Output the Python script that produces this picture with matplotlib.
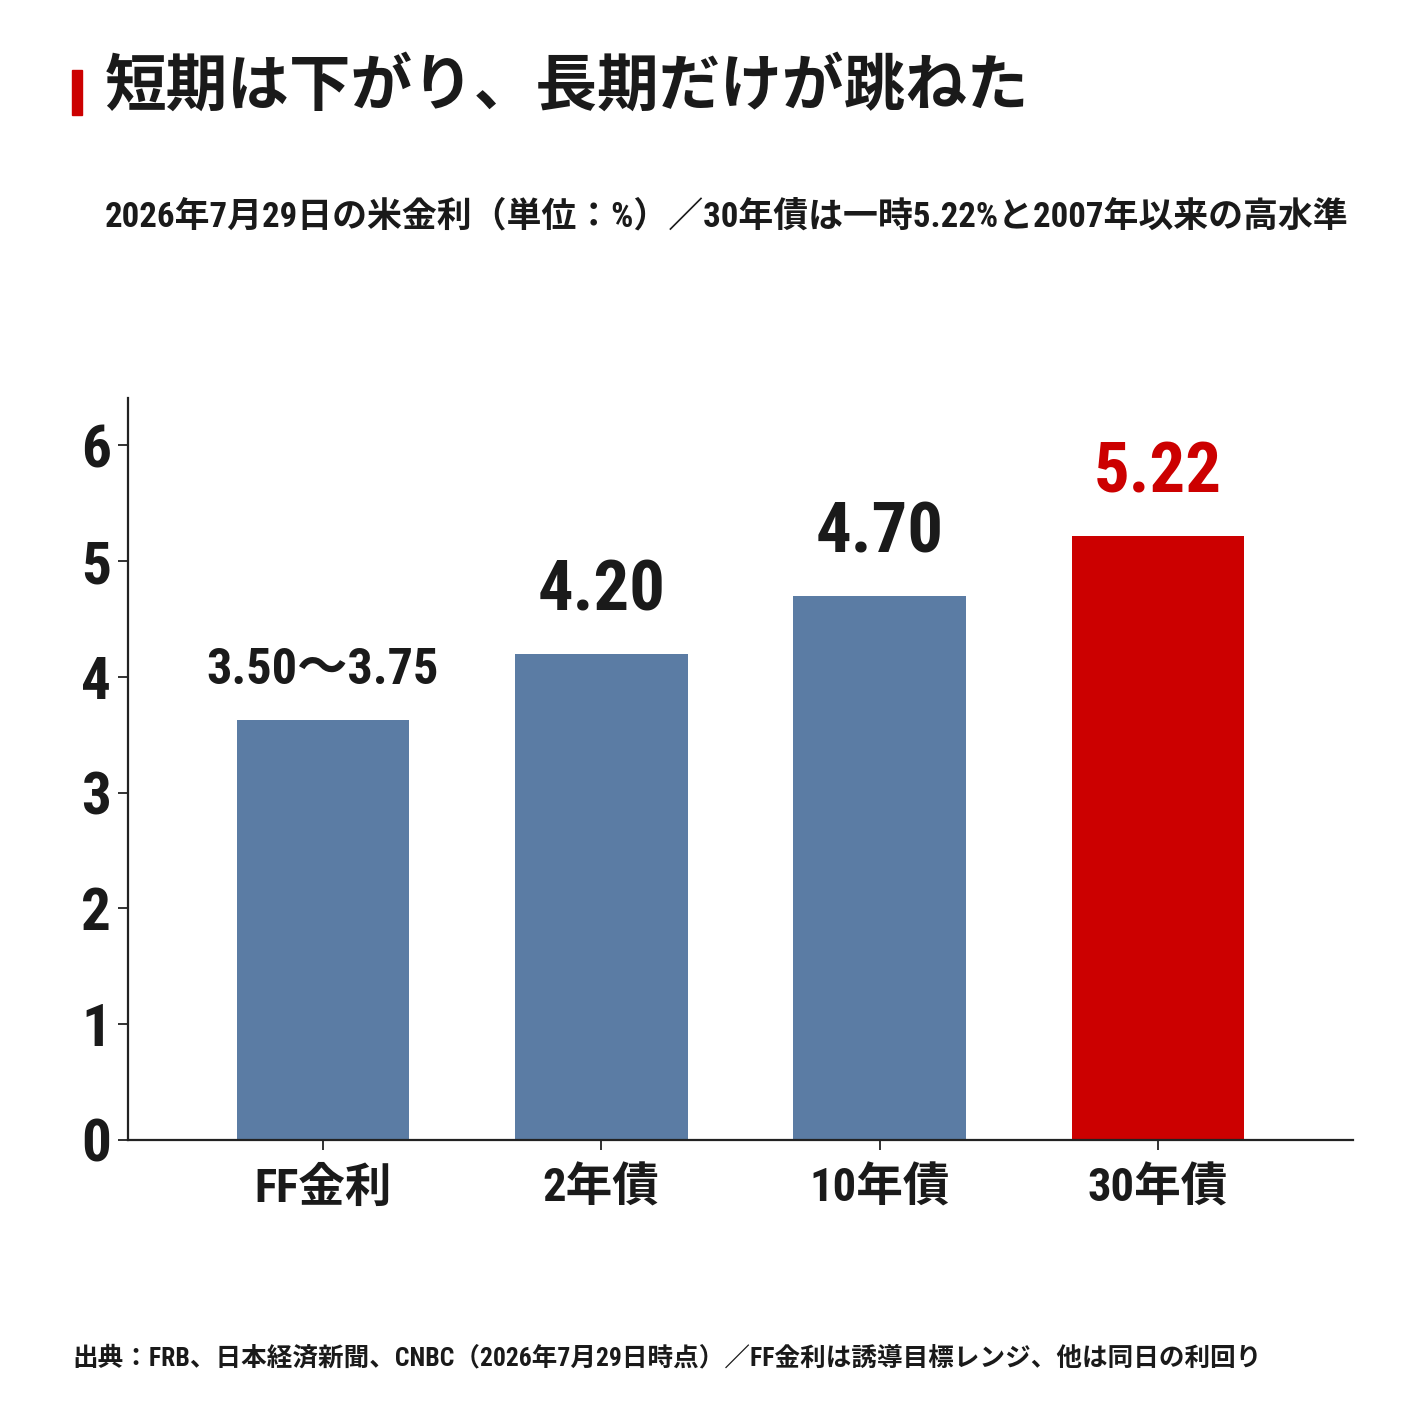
import matplotlib
matplotlib.use("Agg")
import matplotlib.pyplot as plt
from matplotlib import font_manager

entries = font_manager.fontManager.ttflist
installed = {f.name for f in entries}
NARROW = None
NARROW_STRETCH = "normal"
for cand in ["Liberation Sans Narrow", "Roboto Condensed", "Open Sans Condensed",
             "Noto Sans Condensed", "Arial Narrow"]:
    if cand in installed:
        NARROW = cand
        break
if NARROW is None:
    for f in entries:
        if f.name in ("Roboto", "Noto Sans", "Open Sans", "DejaVu Sans") and \
                str(f.stretch) in ("condensed", "semi-condensed", "extra-condensed", "75", "87.5", "62.5"):
            NARROW = f.name
            NARROW_STRETCH = "condensed"
            break
if NARROW is None:
    NARROW = "Noto Sans CJK JP"

FAM = [NARROW, "Noto Sans CJK JP", "DejaVu Sans"]
CJK = ["Noto Sans CJK JP", "DejaVu Sans"]

plt.rcParams['font.family'] = FAM
plt.rcParams['font.weight'] = 'bold'
plt.rcParams['font.stretch'] = NARROW_STRETCH

categories = ["FF金利", "2年債", "10年債", "30年債"]
values = [3.625, 4.20, 4.70, 5.22]
value_labels = ["3.50〜3.75", "4.20", "4.70", "5.22"]
bar_colors = ["#5b7ca4", "#5b7ca4", "#5b7ca4", "#cc0000"]
label_colors = ["#1a1a1a", "#1a1a1a", "#1a1a1a", "#cc0000"]
yticks = [0, 1, 2, 3, 4, 5, 6]

title = "短期は下がり、長期だけが跳ねた"
subtitle = "2026年7月29日の米金利（単位：%）／30年債は一時5.22%と2007年以来の高水準"
footer = "出典：FRB、日本経済新聞、CNBC（2026年7月29日時点）／FF金利は誘導目標レンジ、他は同日の利回り"

W = 1425
fig = plt.figure(figsize=(14.25, 14.25), dpi=100)
fig.patch.set_facecolor("white")
renderer = fig.canvas.get_renderer()

def fit_width(t, target_px):
    bb = t.get_window_extent(renderer=renderer)
    t.set_fontsize(t.get_fontsize() * target_px / bb.width)

def fx(px):
    return px / W

def fy(py):
    return 1 - py / W

ax = fig.add_axes([fx(128), fy(1140), fx(1353 - 128), (1140 - 398) / W])
x = list(range(len(categories)))
ax.bar(x, values, width=0.62, color=bar_colors, zorder=2)
ax.set_xlim(-0.70, 3.70)
ax.set_ylim(0, 6.41)
ax.set_yticks(yticks)
ax.set_yticklabels([str(v) for v in yticks])
ax.set_xticks(x)
ax.set_xticklabels(categories)
for s in ["top", "right"]:
    ax.spines[s].set_visible(False)
for s in ["left", "bottom"]:
    ax.spines[s].set_linewidth(1.6)
    ax.spines[s].set_color("#222222")
ax.tick_params(axis="y", length=7, width=1.3, colors="#222222", labelsize=40, pad=5)
ax.tick_params(axis="x", length=7, width=1.3, colors="#222222", labelsize=36, pad=12)
for lab in ax.get_yticklabels() + ax.get_xticklabels():
    lab.set_color("#1a1a1a")
    lab.set_fontweight("bold")

fig.canvas.draw()
yl = ax.get_yticklabels()
bby = yl[0].get_window_extent(renderer=renderer)
sy = 30 / bby.width
for lab in yl:
    lab.set_fontsize(lab.get_fontsize() * sy)

xl = ax.get_xticklabels()
bb0 = xl[0].get_window_extent(renderer=renderer)
scale = 138 / bb0.width
for lab in xl:
    lab.set_fontsize(lab.get_fontsize() * scale)

targets = [232, 128, 128, 128]
offsets = [26, 31, 31, 31]
for xi, v, lbl, c, tw, off in zip(x, values, value_labels, label_colors, targets, offsets):
    t = ax.annotate(lbl, xy=(xi, v), xytext=(0, off), textcoords="offset points",
                    ha="center", va="baseline", fontsize=60, fontweight="bold", color=c)
    fit_width(t, tw)

fig.patches.append(plt.Rectangle((fx(72), fy(115)), fx(10), (115 - 70) / W,
                                 transform=fig.transFigure, color="#cc0000"))
t1 = fig.text(fx(105), fy(87), title, ha="left", va="center", fontsize=50,
              fontweight="bold", color="#1a1a1a", family=CJK)
fit_width(t1, 925)
t2 = fig.text(fx(105), fy(217), subtitle, ha="left", va="center", fontsize=30,
              fontweight="bold", color="#1a1a1a")
fit_width(t2, 1245)
t3 = fig.text(fx(72), fy(1358), footer, ha="left", va="center", fontsize=24,
              fontweight="bold", color="#1a1a1a")
fit_width(t3, 1188)

fig.savefig("out.png", dpi=100, facecolor="white")
